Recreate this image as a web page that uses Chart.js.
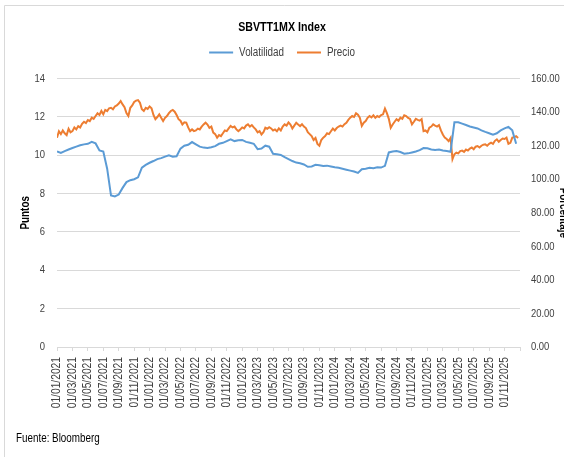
<!DOCTYPE html>
<html lang="es">

<head>
  <meta charset="UTF-8">
  <title>SBVTT1MX Index</title>
  <script src="https://cdn.jsdelivr.net/npm/chart.js"></script>
  <style>
    html, body { margin: 0; padding: 0; background: #fff; overflow: hidden; }
    #grafico { display: block; }
  </style>
</head>

<body>
  <canvas id="grafico" width="564" height="457"></canvas>

  <script>
    // Etiquetas del eje X (cada dos meses)
    const etiquetas = [
      '01/01/2021', '01/03/2021', '01/05/2021', '01/07/2021', '01/09/2021', '01/11/2021',
      '01/01/2022', '01/03/2022', '01/05/2022', '01/07/2022', '01/09/2022', '01/11/2022',
      '01/01/2023', '01/03/2023', '01/05/2023', '01/07/2023', '01/09/2023', '01/11/2023',
      '01/01/2024', '01/03/2024', '01/05/2024', '01/07/2024', '01/09/2024', '01/11/2024',
      '01/01/2025', '01/03/2025', '01/05/2025', '01/07/2025', '01/09/2025', '01/11/2025'
    ];

    // Volatilidad (puntos), un valor cada medio mes desde ene-2021
    const pasoVolatilidad = 0.5;
    const volatilidad = [
      10.2, 10.12, 10.22, 10.3, 10.38, 10.45, 10.52, 10.57, 10.6, 10.7, 10.62, 10.25,
      10.2, 9.3, 7.9, 7.85, 7.95, 8.3, 8.6, 8.7, 8.75, 8.85, 9.35, 9.5,
      9.61, 9.7, 9.8, 9.85, 9.93, 10.0, 9.93, 9.95, 10.35, 10.5, 10.55, 10.69,
      10.57, 10.45, 10.4, 10.38, 10.42, 10.48, 10.6, 10.65, 10.74, 10.83, 10.74, 10.78,
      10.8, 10.7, 10.65, 10.6, 10.32, 10.35, 10.5, 10.45, 10.08, 10.05, 10.02, 9.9,
      9.8, 9.7, 9.62, 9.58, 9.52, 9.4, 9.42, 9.5, 9.48, 9.44, 9.46, 9.42,
      9.38, 9.35, 9.3, 9.25, 9.2, 9.15, 9.08, 9.27, 9.3, 9.35, 9.33, 9.38,
      9.36, 9.45, 10.15, 10.2, 10.22, 10.17, 10.08, 10.1, 10.15, 10.2, 10.27, 10.38,
      10.37, 10.3, 10.28, 10.3, 10.25, 10.22, 10.18, 11.72, 11.72, 11.65, 11.58, 11.5,
      11.45, 11.4, 11.3, 11.22, 11.15, 11.08, 11.15, 11.3, 11.4, 11.48, 11.3, 10.6
    ];

    // Precio (eje derecho), un valor cada cuarto de mes
    const pasoPrecio = 0.25;
    const precio = [
      124.8, 128.6, 126.9, 129.1, 127.4, 126.3, 130.1, 128.0,
      128.7, 130.9, 129.7, 131.7, 130.9, 133.1, 134.3, 133.5,
      135.3, 134.6, 136.7, 136.0, 137.7, 139.3, 138.3, 140.7,
      138.7, 141.3, 140.6, 142.3, 142.6, 141.7, 143.4, 144.0,
      145.1, 146.6, 144.6, 142.9, 139.5, 137.7, 142.6, 144.0,
      146.1, 146.9, 147.2, 145.6, 141.7, 140.7, 142.6, 141.9,
      143.4, 142.3, 138.3, 135.8, 137.1, 138.7, 136.6, 134.7,
      136.6, 137.7, 139.4, 140.7, 141.3, 140.3, 138.3, 135.8,
      134.9, 132.6, 133.9, 133.7, 130.9, 128.7, 129.7, 128.7,
      129.1, 130.2, 129.7, 131.4, 132.7, 133.7, 132.6, 130.7,
      131.4, 127.8, 126.9, 124.8, 126.3, 125.7, 127.4, 129.1,
      128.7, 130.3, 131.8, 130.9, 131.4, 129.7, 128.7, 129.7,
      130.9, 130.3, 132.0, 132.7, 131.4, 132.3, 130.9, 129.7,
      128.0, 128.7, 126.7, 128.0, 130.7, 130.1, 131.0, 130.3,
      129.1, 129.7, 128.6, 130.3, 129.1, 131.4, 132.7, 132.0,
      133.9, 132.6, 130.3, 132.0, 133.7, 132.6, 131.7, 132.8,
      131.4, 130.5, 128.0, 126.9, 125.7, 123.4, 124.6, 121.1,
      120.0, 123.4, 124.8, 125.7, 127.4, 126.9, 128.6, 130.2,
      129.1, 130.5, 131.4, 132.0, 131.4, 132.8, 133.7, 135.4,
      136.7, 137.7, 137.1, 139.3, 138.5, 136.6, 131.8, 133.7,
      134.7, 136.6, 137.7, 136.9, 138.1, 136.6, 137.7, 137.1,
      138.3, 138.7, 142.1, 139.4, 136.0, 130.7, 132.6, 134.3,
      135.8, 134.9, 136.7, 136.0, 138.1, 137.7, 136.6, 136.0,
      132.7, 134.3, 136.0, 135.4, 134.9, 135.8, 128.7, 129.1,
      128.0, 130.7, 131.4, 132.7, 132.0, 131.4, 132.3, 129.1,
      126.7, 124.8, 124.0, 122.7, 124.6, 112.0, 114.9, 115.8,
      115.4, 116.8, 117.1, 116.3, 117.7, 117.1, 118.3, 118.9,
      117.9, 119.4, 119.8, 118.9, 120.0, 120.6, 120.8, 120.0,
      121.1, 121.8, 121.1, 122.9, 123.8, 122.3, 123.4, 124.3,
      124.0, 124.8, 121.1, 121.7, 124.8, 125.1, 125.7, 124.6
    ];

    // No hay Arial Narrow instalada: se estrecha el texto del canvas a mano
    const estrechez = 0.82;
    const ctxProto = CanvasRenderingContext2D.prototype;
    const medirOriginal = ctxProto.measureText;
    const escribirOriginal = ctxProto.fillText;
    ctxProto.measureText = function (texto) {
      const m = medirOriginal.call(this, texto);
      return {
        width: m.width * estrechez,
        actualBoundingBoxAscent: m.actualBoundingBoxAscent,
        actualBoundingBoxDescent: m.actualBoundingBoxDescent,
        actualBoundingBoxLeft: m.actualBoundingBoxLeft * estrechez,
        actualBoundingBoxRight: m.actualBoundingBoxRight * estrechez
      };
    };
    ctxProto.fillText = function (texto, x, y, maxAncho) {
      const ancho = medirOriginal.call(this, texto).width * estrechez;
      const limite = maxAncho === undefined ? ancho : Math.min(maxAncho, ancho);
      escribirOriginal.call(this, texto, x, y, limite);
    };

    const fuente = "'Liberation Sans', Arial, sans-serif";
    Chart.defaults.font.family = fuente;
    Chart.defaults.color = '#404040';

    // Marco del gráfico y nota de fuente
    const marco = {
      id: 'marco',
      beforeDraw(chart) {
        const ctx = chart.ctx;
        ctx.save();
        ctx.strokeStyle = '#d9d9d9';
        ctx.lineWidth = 1;
        ctx.beginPath();
        ctx.moveTo(4.5, 457);
        ctx.lineTo(4.5, 5.5);
        ctx.lineTo(564, 5.5);
        ctx.stroke();
        ctx.restore();
      },
      afterDraw(chart) {
        const ctx = chart.ctx;
        ctx.save();
        ctx.fillStyle = '#000';
        ctx.font = '12px ' + fuente;
        ctx.textBaseline = 'middle';
        ctx.fillText('Fuente: Bloomberg', 16, 439);
        ctx.restore();
      }
    };

    // Un poco más de espacio bajo la leyenda
    const espacioLeyenda = {
      id: 'espacioLeyenda',
      beforeLayout(chart) {
        const leyenda = chart.legend;
        if (leyenda && !leyenda._ajustada) {
          const fitOriginal = leyenda.fit;
          leyenda.fit = function () {
            fitOriginal.call(this);
            this.height += 10;
          };
          leyenda._ajustada = true;
        }
      }
    };

    new Chart(document.getElementById('grafico'), {
      type: 'line',
      data: {
        datasets: [{
          label: 'Volatilidad',
          data: volatilidad.map((v, i) => ({ x: i * pasoVolatilidad, y: v })),
          borderColor: '#5b9bd5',
          backgroundColor: '#5b9bd5',
          borderWidth: 2,
          pointRadius: 0,
          yAxisID: 'y'
        }, {
          label: 'Precio',
          data: precio.map((v, i) => ({ x: i * pasoPrecio, y: v })),
          borderColor: '#ed7d31',
          backgroundColor: '#ed7d31',
          borderWidth: 2,
          pointRadius: 0,
          yAxisID: 'y1'
        }]
      },
      options: {
        responsive: false,
        animation: false,
        layout: { padding: 0 },
        plugins: {
          title: {
            display: true,
            text: 'SBVTT1MX Index',
            color: '#000',
            font: { size: 13, weight: 'bold' },
            padding: { top: 20, bottom: -2 }
          },
          legend: {
            position: 'top',
            labels: {
              usePointStyle: true,
              pointStyle: 'line',
              pointStyleWidth: 24,
              padding: 13,
              color: '#404040',
              font: { size: 12 }
            }
          },
          tooltip: { enabled: false }
        },
        scales: {
          x: {
            type: 'linear',
            min: 0,
            max: 60,
            afterFit(scale) { scale.height = 110; },
            grid: {
              drawOnChartArea: false,
              drawTicks: true,
              tickLength: 4,
              color: '#d9d9d9'
            },
            border: { display: true, color: '#d9d9d9' },
            ticks: {
              stepSize: 2,
              autoSkip: false,
              minRotation: 90,
              maxRotation: 90,
              padding: 6,
              font: { size: 12.5 },
              callback: (valor) => etiquetas[valor / 2] || ''
            }
          },
          y: {
            position: 'left',
            min: 0,
            max: 14,
            afterFit(scale) { scale.width = 57; },
            grid: { color: '#d9d9d9', drawTicks: false },
            border: { display: false },
            ticks: { stepSize: 2, padding: 12, font: { size: 11.5 } },
            title: {
              display: true,
              text: 'Puntos',
              color: '#000',
              font: { size: 12, weight: 'bold' },
              padding: { top: 18, bottom: 0 }
            }
          },
          y1: {
            position: 'right',
            min: 0,
            max: 160,
            afterFit(scale) { scale.width = 44; },
            grid: { display: false, drawTicks: false },
            border: { display: false },
            ticks: {
              stepSize: 20,
              padding: 11,
              font: { size: 11.5 },
              callback: (valor) => valor.toFixed(2)
            },
            title: {
              display: true,
              text: 'Porcentaje',
              color: '#000',
              font: { size: 12, weight: 'bold' },
              padding: { top: -7, bottom: 0 }
            }
          }
        }
      },
      plugins: [marco, espacioLeyenda]
    });
  </script>
</body>

</html>
